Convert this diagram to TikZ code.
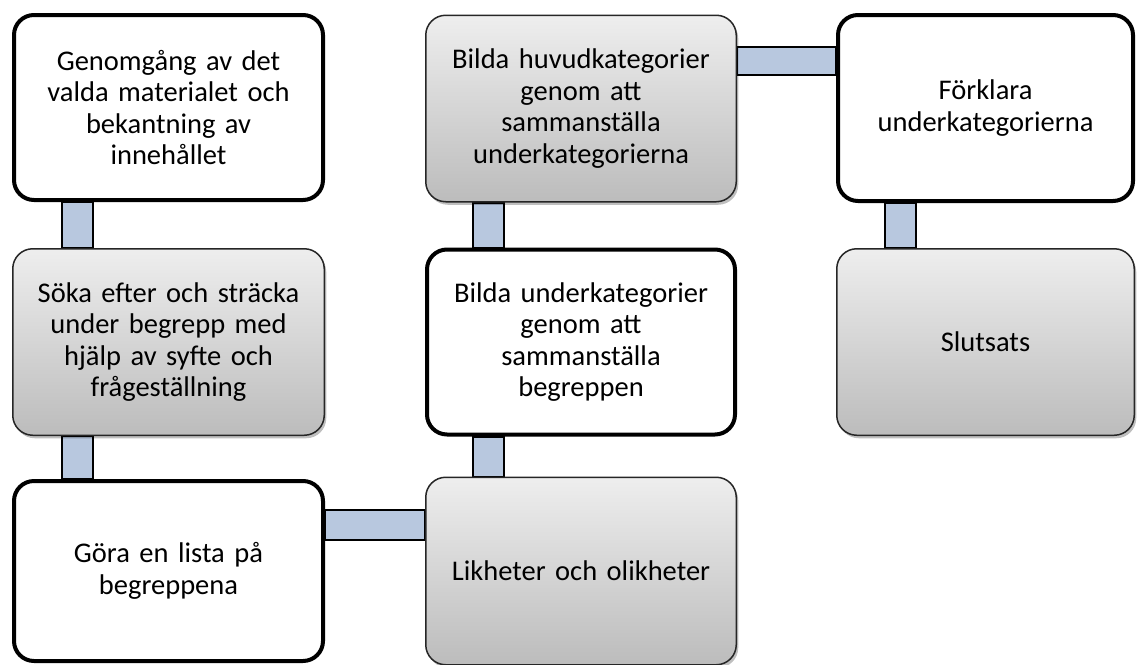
\documentclass[tikz,border=0pt]{standalone}
\usepackage{fontspec}
\setmainfont{Carlito}
\usetikzlibrary{backgrounds,shadows}
\definecolor{barfill}{HTML}{B8C8DF}
\definecolor{gtop}{HTML}{EEEEEE}
\definecolor{gbot}{HTML}{BCBCBC}
\tikzset{
  boxbase/.style={rectangle, rounded corners=20pt, align=center, text width=295pt,
    font=\fontsize{28.5}{31.5}\selectfont, inner sep=0pt},
  whitebox/.style={boxbase, draw=black, line width=4pt, fill=white},
  graybox/.style={boxbase, draw=black!85, line width=1.5pt, top color=gtop, bottom color=gbot,
    drop shadow={shadow xshift=2pt, shadow yshift=-3pt, opacity=0.25, fill=black}},
  bar/.style={draw=black, line width=2pt, fill=barfill}
}
\begin{document}
\begin{tikzpicture}[x=1pt,y=-1pt]
\useasboundingbox (0,0) rectangle (1137,664);
% column 1
\node[whitebox, minimum width=309pt, minimum height=185pt] (b1) at (168.5,107.5)
  {Genomgång av det\\valda materialet och\\bekantning av\\innehållet};
\node[graybox, minimum width=311.5pt, minimum height=186.5pt] (b2) at (168.5,342)
  {Söka efter och sträcka\\under begrepp med\\hjälp av syfte och\\frågeställning};
\node[whitebox, minimum width=309pt, minimum height=180pt] (b3) at (168.5,571)
  {Göra en lista på\\begreppena};
% column 2
\node[graybox, minimum width=310.5pt, minimum height=187.5pt] (b4) at (581,571)
  {Likheter och olikheter};
\node[whitebox, minimum width=308pt, minimum height=185pt] (b5) at (581,342)
  {Bilda underkategorier\\genom att\\sammanställa\\begreppen};
\node[graybox, minimum width=310.5pt, minimum height=186.5pt] (b6) at (581,108.5)
  {Bilda huvudkategorier\\genom att\\sammanställa\\underkategorierna};
% column 3
\node[whitebox, minimum width=295pt, minimum height=186pt] (b7) at (985.5,108)
  {Förklara\\underkategorierna};
\node[graybox, minimum width=297.5pt, minimum height=186.5pt] (b8) at (985.5,342)
  {Slutsats};
% connectors
\begin{scope}[on background layer]
\draw[bar] ([xshift=50pt]b1.south west) rectangle ([xshift=81pt]b2.north west);
\draw[bar] ([xshift=50pt]b2.south west) rectangle ([xshift=81pt]b3.north west);
\draw[bar] ([yshift=-31pt]b3.north east) rectangle ([yshift=-63pt]b4.north west);
\draw[bar] ([xshift=48pt]b4.north west) rectangle ([xshift=79pt]b5.south west);
\draw[bar] ([xshift=48pt]b5.north west) rectangle ([xshift=79pt]b6.south west);
\draw[bar] ([yshift=-32pt]b6.north east) rectangle ([yshift=-62pt]b7.north west);
\draw[bar] ([xshift=49pt]b7.south west) rectangle ([xshift=80pt]b8.north west);
\end{scope}
\end{tikzpicture}
\end{document}
